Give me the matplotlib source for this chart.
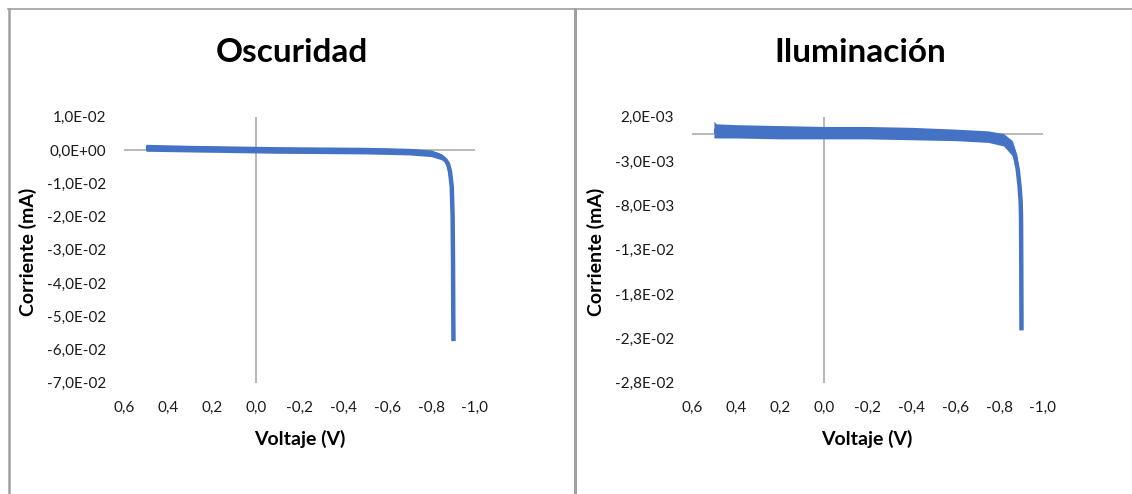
import matplotlib
matplotlib.use("Agg")
import matplotlib.pyplot as plt
from matplotlib.lines import Line2D

plt.rcParams['font.family'] = ['Lato', 'DejaVu Sans']

# ---------------- data ----------------
titles = ["Oscuridad", "Iluminación"]
x_label = "Voltaje (V)"
y_label = "Corriente (mA)"

x_ticks = [0.6, 0.4, 0.2, 0.0, -0.2, -0.4, -0.6, -0.8, -1.0]
x_ticklabels = ["0,6", "0,4", "0,2", "0,0", "-0,2", "-0,4", "-0,6", "-0,8", "-1,0"]

# Oscuridad (dark)
dark_yticks = [0.01, 0.0, -0.01, -0.02, -0.03, -0.04, -0.05, -0.06, -0.07]
dark_yticklabels = ["1,0E-02", "0,0E+00", "-1,0E-02", "-2,0E-02", "-3,0E-02",
                    "-4,0E-02", "-5,0E-02", "-6,0E-02", "-7,0E-02"]
dark_v = [0.5, 0.4, 0.3, 0.2, 0.1, 0.0, -0.1, -0.2, -0.3, -0.4, -0.5, -0.6, -0.7,
          -0.75, -0.8, -0.83, -0.85, -0.865, -0.877, -0.886, -0.894, -0.898, -0.9,
          -0.901, -0.902]
dark_i = [0.0006, 0.0005, 0.0004, 0.0003, 0.0002, 0.0, 0.0, -0.0001, -0.0001,
          -0.0002, -0.0002, -0.0003, -0.0005, -0.0007, -0.001, -0.0015, -0.0022,
          -0.003, -0.0042, -0.0065, -0.011, -0.02, -0.035, -0.05, -0.0575]
# noise envelope of the measured band
dark_band_v = [0.5, 0.3, 0.1, -0.1, -0.3, -0.5, -0.7, -0.8, -0.85, -0.87]
dark_band_hi = [0.0017, 0.0014, 0.0012, 0.001, 0.0009, 0.0008, 0.0005, 0.0, -0.0013, -0.0027]
dark_band_lo = [-0.0004, -0.0006, -0.0008, -0.001, -0.0011, -0.0012, -0.0015, -0.002, -0.003, -0.0039]

# Iluminación (illuminated)
light_yticks = [0.002, -0.003, -0.008, -0.013, -0.018, -0.023, -0.028]
light_yticklabels = ["2,0E-03", "-3,0E-03", "-8,0E-03", "-1,3E-02",
                     "-1,8E-02", "-2,3E-02", "-2,8E-02"]
light_v = [0.5, 0.4, 0.3, 0.2, 0.1, 0.0, -0.1, -0.2, -0.3, -0.4, -0.5, -0.6, -0.7,
           -0.75, -0.8, -0.83, -0.85, -0.865, -0.875, -0.885, -0.893, -0.898, -0.9,
           -0.901, -0.902]
light_i = [0.0004, 0.00035, 0.0003, 0.0003, 0.00025, 0.00025, 0.0002, 0.0002,
           0.0001, 0.0001, 0.0001, 0.0, -0.0001, -0.0002, -0.0003, -0.0007, -0.0012,
           -0.0019, -0.0027, -0.004, -0.0058, -0.0075, -0.0095, -0.015, -0.0221]
light_band_v = [0.5, 0.49, 0.4, 0.2, 0.0, -0.2, -0.4, -0.6, -0.75, -0.82, -0.86, -0.88, -0.895]
light_band_hi = [0.0015, 0.0012, 0.0011, 0.001, 0.0009, 0.0009, 0.0008, 0.0006, 0.0004, 0.0001, -0.0007, -0.0022, -0.0052]
light_band_lo = [-0.0004, -0.0004, -0.0004, -0.0005, -0.0005, -0.0005, -0.0006, -0.0007, -0.0009, -0.0013, -0.0024, -0.0039, -0.0069]

# ---------------- plot ----------------
W, H = 1132, 494
fig = plt.figure(figsize=(W / 100, H / 100), dpi=100)
fig.patch.set_facecolor("white")

blue = "#4472C4"
axis_gray = "#A6A6A6"
border_gray = "#A0A0A0"

# panel borders
fig.add_artist(Line2D([8 / W, 1.0], [1 - 9.5 / H, 1 - 9.5 / H], color=border_gray, lw=1.2))
fig.add_artist(Line2D([8.5 / W, 8.5 / W], [0, 1 - 9.5 / H], color=border_gray, lw=1.8))
fig.add_artist(Line2D([575.5 / W, 575.5 / W], [0, 1 - 9.5 / H], color=border_gray, lw=2.2))

panels = [
    dict(left=124, title_x=292, xlab_x=300, yl_x=28, v=dark_v, i=dark_i,
         bv=dark_band_v, bhi=dark_band_hi, blo=dark_band_lo,
         yt=dark_yticks, ytl=dark_yticklabels),
    dict(left=692, title_x=860, xlab_x=867, yl_x=596, v=light_v, i=light_i,
         bv=light_band_v, bhi=light_band_hi, blo=light_band_lo,
         yt=light_yticks, ytl=light_yticklabels),
]

ax_top, ax_bot = 116.7, 382.7
for k, p in enumerate(panels):
    ax = fig.add_axes([p["left"] / W, 1 - ax_bot / H, 351 / W, (ax_bot - ax_top) / H])
    ax.set_xlim(x_ticks[0], x_ticks[-1])
    ax.set_ylim(p["yt"][-1], p["yt"][0])
    for s in ax.spines.values():
        s.set_visible(False)
    ax.axhline(0, color=axis_gray, lw=1.1, zorder=1)
    ax.axvline(0, color=axis_gray, lw=1.1, zorder=1)
    ax.fill_between(p["bv"], p["blo"], p["bhi"], color=blue, lw=0, zorder=2)
    ax.plot(p["v"], p["i"], color=blue, lw=3.2, solid_capstyle="butt",
            solid_joinstyle="round", zorder=3)
    ax.set_xticks(x_ticks)
    ax.set_xticklabels(x_ticklabels)
    ax.set_yticks(p["yt"])
    ax.set_yticklabels(p["ytl"])
    ax.tick_params(length=0, labelsize=11, colors="#1a1a1a")
    ax.tick_params(axis="y", pad=13)
    ax.tick_params(axis="x", pad=13)
    ax.set_facecolor("none")

    fig.text(p["title_x"] / W, 1 - 53 / H, titles[k], ha="center", va="center",
             fontsize=24, fontweight="bold", color="#000000")
    fig.text(p["xlab_x"] / W, 1 - 439 / H, x_label, ha="center", va="center",
             fontsize=14, fontweight="bold", color="#000000")
    fig.text(p["yl_x"] / W, 1 - 252 / H, y_label, ha="center", va="center",
             rotation=90, fontsize=14, fontweight="bold", color="#000000")

fig.savefig("out.png", dpi=100, facecolor="white")
